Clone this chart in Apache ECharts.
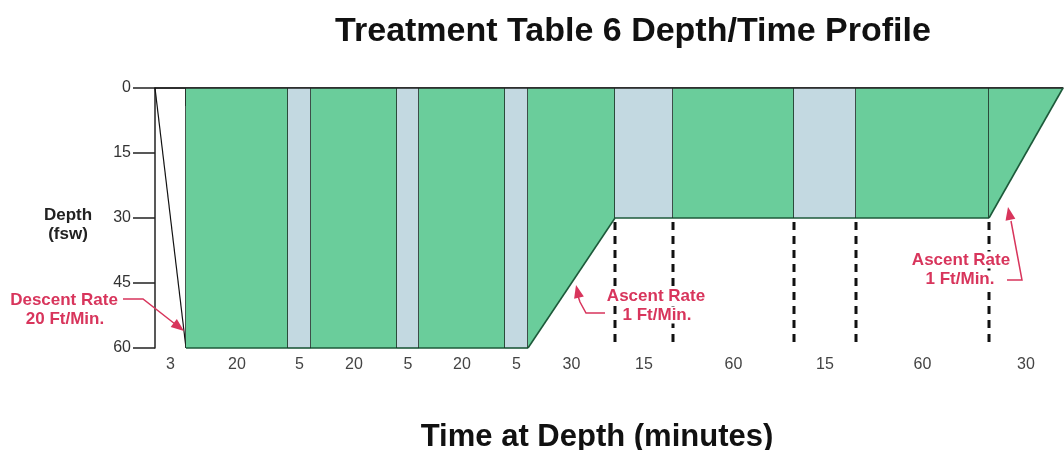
<!DOCTYPE html>
<html>
<head>
<meta charset="utf-8">
<script src="https://cdn.jsdelivr.net/npm/echarts@6/dist/echarts.min.js"></script>
<style>
  html, body { margin: 0; padding: 0; background: #fff; }
  #chart { width: 1064px; height: 450px; }
</style>
</head>
<body>
<div id="chart"></div>
<script>
// minutes printed under each segment
var segMinutes = [3, 20, 5, 20, 5, 20, 5, 30, 15, 60, 15, 60, 30];
// drawn (schematic) width of each segment, the chart is not to scale
var segWidth = [31, 102, 23, 86, 22, 86, 23, 87, 58, 121, 62, 133, 74];
// what is breathed in each segment
var segGas = ['descent', 'O2', 'air', 'O2', 'air', 'O2', 'air', 'O2', 'air', 'O2', 'air', 'O2', 'O2'];
// depth (fsw) at each segment boundary, 14 boundaries
var boundaryDepth = [0, 60, 60, 60, 60, 60, 60, 60, 30, 30, 30, 30, 30, 0];
var depthTicks = [0, 15, 30, 45, 60];

var gasColor = { O2: '#6acd9b', air: '#c3d9e1', descent: 'none' };
var red = '#d8355c';
var font = '"Liberation Sans", Arial, sans-serif';

// cumulative positions
var edges = [0];
segWidth.forEach(function (w, i) { edges.push(edges[i] + w); });
var total = edges[edges.length - 1];
var centers = segWidth.map(function (w, i) { return edges[i] + w / 2; });

var chart = echarts.init(document.getElementById('chart'));

function renderSeg(params, api) {
  var i = params.dataIndex;
  var x0 = edges[i], x1 = edges[i + 1];
  var d0 = boundaryDepth[i], d1 = boundaryDepth[i + 1];
  var pTL = api.coord([x0, 0]), pTR = api.coord([x1, 0]);
  var pBL = api.coord([x0, d0]), pBR = api.coord([x1, d1]);
  var kids = [];
  if (segGas[i] !== 'descent') {
    kids.push({ type: 'polygon', shape: { points: [pTL, pTR, pBR, pBL] },
      style: { fill: gasColor[segGas[i]], stroke: null } });
  }
  // top edge
  kids.push({ type: 'line', shape: { x1: pTL[0], y1: pTL[1], x2: pTR[0], y2: pTR[1] },
    style: { stroke: '#222', lineWidth: 1.5 } });
  // profile line
  kids.push({ type: 'line', shape: { x1: pBL[0], y1: pBL[1], x2: pBR[0], y2: pBR[1] },
    style: { stroke: segGas[i] === 'descent' ? '#111' : '#1d5a3a', lineWidth: segGas[i] === 'descent' ? 1.2 : 1.6 } });
  if (i < segWidth.length - 1) {
    kids.push({ type: 'line', shape: { x1: pTR[0], y1: pTR[1], x2: pBR[0], y2: pBR[1] },
      style: { stroke: '#1c2b24', lineWidth: 1.6 } });
    if (d1 < 60) {
      var pBot = api.coord([x1, 60]);
      kids.push({ type: 'line', shape: { x1: pBR[0], y1: pBR[1] + 4, x2: pBot[0], y2: pBot[1] - 4 },
        style: { stroke: '#111', lineWidth: 3, lineDash: [8, 6] } });
    }
  }
  return { type: 'group', children: kids };
}

function arrowHead(tip, from) {
  var dx = tip[0] - from[0], dy = tip[1] - from[1];
  var len = Math.sqrt(dx * dx + dy * dy);
  var ux = dx / len, uy = dy / len;
  var bx = tip[0] - ux * 13, by = tip[1] - uy * 13;
  return {
    type: 'polygon', z: 120,
    shape: { points: [tip, [bx - uy * 5, by + ux * 5], [bx + uy * 5, by - ux * 5]] },
    style: { fill: red }
  };
}

function note(x, y, txt) {
  return { type: 'text', x: x, y: y, z: 110,
    style: { text: txt, fill: red, font: 'bold 17px ' + font, align: 'center', verticalAlign: 'middle',
      backgroundColor: '#fff', padding: [0, 3] } };
}

var option = {
  backgroundColor: '#fff',
  animation: false,
  grid: { left: 155, right: 1, top: 88, bottom: 102 },
  xAxis: {
    type: 'value', min: 0, max: total,
    axisLine: { show: true, lineStyle: { color: '#222', width: 1.5 } },
    axisTick: { show: true, customValues: edges.slice(1, edges.length - 1), length: 18,
      lineStyle: { color: '#222', width: 1.5 } },
    axisLabel: { customValues: centers, margin: 9, color: '#444', fontSize: 16, fontFamily: font,
      formatter: function (v) {
        var k = centers.indexOf(v);
        return k >= 0 ? String(segMinutes[k]) : '';
      } },
    splitLine: { show: false }
  },
  yAxis: {
    type: 'value', inverse: true, min: 0, max: 60, interval: 15,
    axisLine: { show: true, lineStyle: { color: '#222', width: 1.5 } },
    axisTick: { show: true, length: 22, lineStyle: { color: '#222', width: 1.5 } },
    axisLabel: { margin: 24, color: '#333', fontSize: 16, fontFamily: font,
      formatter: function (v) { return depthTicks.indexOf(v) >= 0 ? String(v) : ''; } },
    splitLine: { show: false }
  },
  series: [{
    type: 'custom',
    renderItem: renderSeg,
    data: segMinutes.map(function (m, i) { return [centers[i], m]; }),
    clip: false,
    silent: true
  }],
  graphic: [
    { type: 'text', x: 633, y: 32,
      style: { text: 'Treatment Table 6 Depth/Time Profile', fill: '#111', font: 'bold 34px ' + font,
        align: 'center', verticalAlign: 'middle' } },
    { type: 'text', x: 597, y: 437,
      style: { text: 'Time at Depth (minutes)', fill: '#111', font: 'bold 31px ' + font,
        align: 'center', verticalAlign: 'middle' } },
    { type: 'text', x: 68, y: 215,
      style: { text: 'Depth', fill: '#222', font: 'bold 17px ' + font, align: 'center', verticalAlign: 'middle' } },
    { type: 'text', x: 68, y: 234,
      style: { text: '(fsw)', fill: '#222', font: 'bold 17px ' + font, align: 'center', verticalAlign: 'middle' } },

    note(64, 300, 'Descent Rate'),
    note(65, 319, '20 Ft/Min.'),
    { type: 'polyline', z: 120, shape: { points: [[123, 299], [143, 299], [175, 324]] },
      style: { stroke: red, lineWidth: 1.5, fill: null } },
    arrowHead([184, 331], [143, 299]),

    note(656, 296, 'Ascent Rate'),
    note(657, 315, '1 Ft/Min.'),
    { type: 'polyline', z: 120, shape: { points: [[605, 313], [586, 313], [580, 302], [578, 296]] },
      style: { stroke: red, lineWidth: 1.5, fill: null } },
    arrowHead([576, 285], [580, 302]),

    note(961, 260, 'Ascent Rate'),
    note(960, 279, '1 Ft/Min.'),
    { type: 'polyline', z: 120, shape: { points: [[1007, 280], [1022, 280], [1011, 221]] },
      style: { stroke: red, lineWidth: 1.5, fill: null } },
    arrowHead([1008, 207], [1022, 280])
  ]
};

chart.setOption(option);
</script>
</body>
</html>
